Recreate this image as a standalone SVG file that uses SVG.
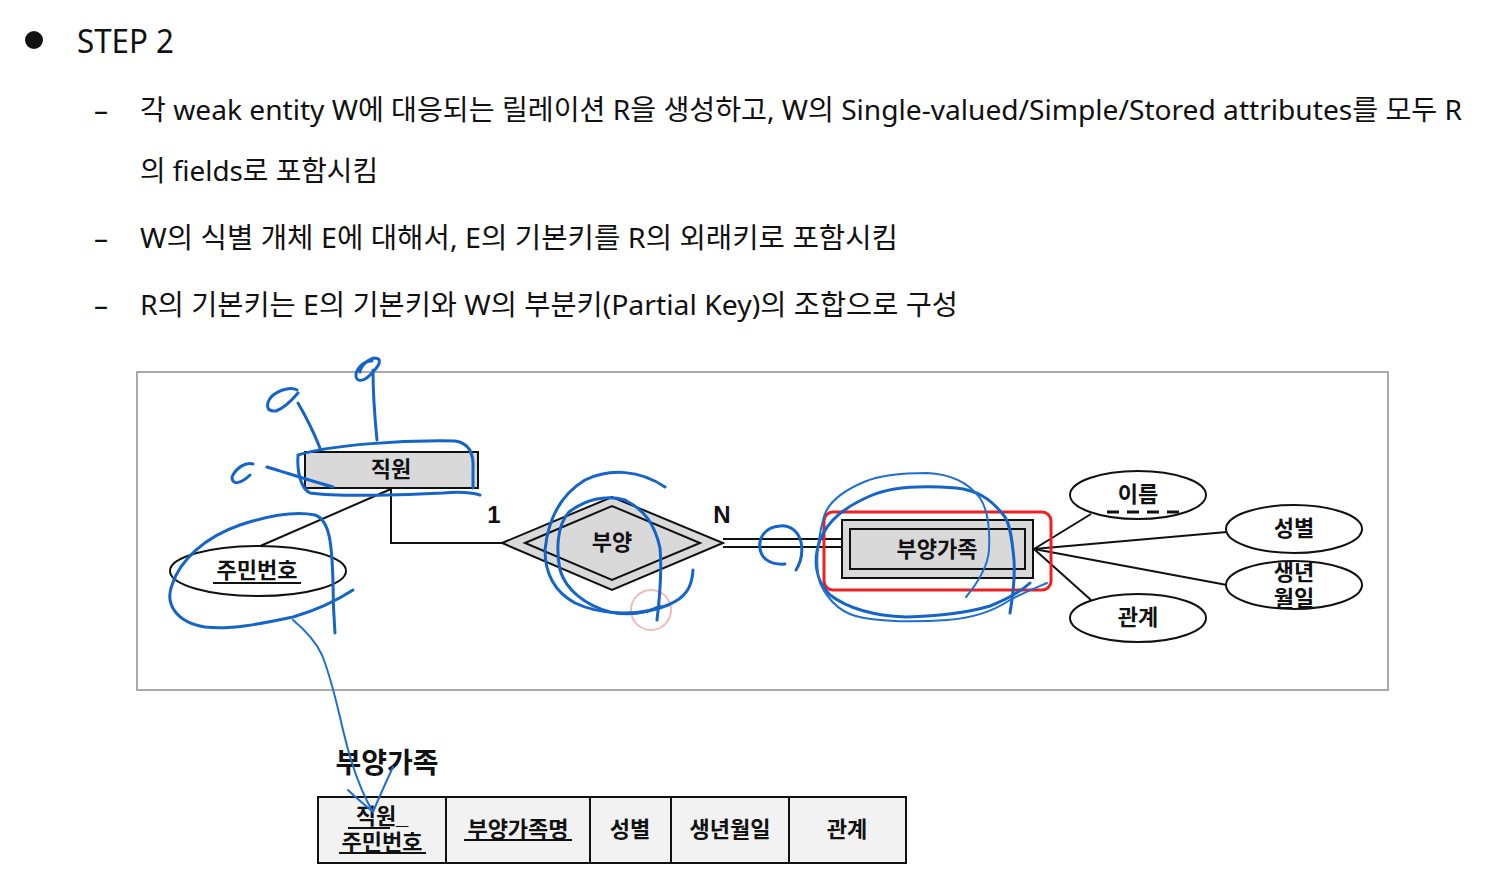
<svg xmlns="http://www.w3.org/2000/svg" width="1510" height="883" viewBox="0 0 1510 883">
<style>
.body{font-family:"Noto Sans","Noto Sans CJK KR",sans-serif;font-size:28px;fill:#111}
.lbl{font-family:"Liberation Sans","Noto Sans CJK KR",sans-serif;font-size:22px;font-weight:bold;fill:#111;text-anchor:middle;dominant-baseline:central}
.ent{fill:#d9d9d9;stroke:#111;stroke-width:2}
.attr{fill:#fff;stroke:#111;stroke-width:2}
.ln{stroke:#111;stroke-width:2;fill:none}
.cell{fill:#f2f2f2;stroke:#111;stroke-width:2}
.pen{fill:none;stroke:#1565c8;stroke-width:3;stroke-linecap:round;stroke-linejoin:round}
.pen2{fill:none;stroke:#1e6fd0;stroke-width:2;stroke-linecap:round}
</style>
<rect width="1510" height="883" fill="#fff"/>
<g id="text">
<circle cx="34" cy="40" r="9" fill="#111"/>
<text x="77" y="53" class="body" style="font-size:33px" textLength="97" lengthAdjust="spacingAndGlyphs">STEP 2</text>
<text x="94" y="120" class="body">–</text>
<text x="140" y="120" class="body" textLength="1322" lengthAdjust="spacingAndGlyphs">각 weak entity W에 대응되는 릴레이션 R을 생성하고, W의 Single-valued/Simple/Stored attributes를 모두 R</text>
<text x="140" y="181" class="body" textLength="238" lengthAdjust="spacingAndGlyphs">의 fields로 포함시킴</text>
<text x="94" y="248" class="body">–</text>
<text x="140" y="248" class="body" textLength="758" lengthAdjust="spacingAndGlyphs">W의 식별 개체 E에 대해서, E의 기본키를 R의 외래키로 포함시킴</text>
<text x="94" y="315" class="body">–</text>
<text x="140" y="315" class="body" textLength="818" lengthAdjust="spacingAndGlyphs">R의 기본키는 E의 기본키와 W의 부분키(Partial Key)의 조합으로 구성</text>
</g>
<rect x="137" y="372" width="1251" height="318" fill="#fff" stroke="#aaa" stroke-width="2"/>
<g id="connectors">
<line class="ln" x1="258" y1="547" x2="391" y2="489"/>
<polyline class="ln" points="391,489 391,543 502,543"/>
<line class="ln" x1="723" y1="539" x2="842" y2="539"/>
<line class="ln" x1="723" y1="547" x2="842" y2="547"/>
<line class="ln" x1="1034" y1="549" x2="1091" y2="514"/>
<line class="ln" x1="1034" y1="549" x2="1227" y2="532"/>
<line class="ln" x1="1034" y1="549" x2="1227" y2="585"/>
<line class="ln" x1="1034" y1="549" x2="1091" y2="600"/>
<text x="494" y="514" class="lbl" style="font-size:24px">1</text>
<text x="722" y="514" class="lbl" style="font-size:24px">N</text>
</g>
<g id="n-emp">
<rect class="ent" x="305" y="452" width="173" height="36"/>
<text x="391" y="469" class="lbl">직원</text>
</g>
<g id="n-ssn">
<ellipse class="attr" cx="258" cy="571" rx="88" ry="25"/>
<text x="257" y="570" class="lbl">주민번호</text>
<line class="ln" x1="213" y1="583" x2="301" y2="583"/>
</g>
<g id="n-rel">
<polygon class="ent" points="502,543 612,497 723,543 612,590"/>
<polygon class="ln" points="525,543 612,506 700,543 612,580"/>
<text x="612" y="542" class="lbl">부양</text>
</g>
<g id="n-dep">
<rect class="ent" x="842" y="520" width="191" height="58"/>
<rect class="ent" x="850" y="529" width="175" height="40"/>
<text x="937" y="549" class="lbl">부양가족</text>
<rect x="824" y="512" width="227" height="78" rx="9" fill="none" stroke="#ee2020" stroke-width="3"/>
</g>
<g id="n-name">
<ellipse class="attr" cx="1138" cy="495" rx="68" ry="24"/>
<text x="1138" y="494" class="lbl">이름</text>
<line x1="1107" y1="512" x2="1182" y2="512" stroke="#111" stroke-width="3" stroke-dasharray="12,8"/>
</g>
<g id="n-sex">
<ellipse class="attr" cx="1294" cy="529" rx="68" ry="24"/>
<text x="1294" y="528" class="lbl">성별</text>
</g>
<g id="n-birth">
<ellipse class="attr" cx="1294" cy="585" rx="68" ry="24"/>
<text x="1294" y="572" class="lbl">생년</text>
<text x="1294" y="598" class="lbl">월일</text>
</g>
<g id="n-relation">
<ellipse class="attr" cx="1138" cy="618" rx="68" ry="24"/>
<text x="1138" y="617" class="lbl">관계</text>
</g>
<g id="table">
<text x="387" y="763" class="lbl" style="font-size:28px">부양가족</text>
<rect class="cell" x="318" y="797" width="128" height="66"/>
<rect class="cell" x="446" y="797" width="144" height="66"/>
<rect class="cell" x="590" y="797" width="81" height="66"/>
<rect class="cell" x="671" y="797" width="118" height="66"/>
<rect class="cell" x="789" y="797" width="117" height="66"/>
<text x="382" y="816" class="lbl">직원_</text>
<text x="382" y="842" class="lbl">주민번호</text>
<line class="ln" x1="348" y1="828" x2="390" y2="828"/>
<line class="ln" x1="339" y1="853" x2="426" y2="853"/>
<text x="518" y="829" class="lbl">부양가족명</text>
<line class="ln" x1="464" y1="840" x2="572" y2="840"/>
<text x="630" y="829" class="lbl">성별</text>
<text x="730" y="829" class="lbl">생년월일</text>
<text x="847" y="829" class="lbl">관계</text>
</g>
<g id="annotations">
<circle cx="651" cy="610" r="20" fill="none" stroke="#f5b8b8" stroke-width="2"/>
<path class="pen" d="M480,495 C470,492 455,492 443,493 C400,495 340,497 310,493 C300,488 297,470 298,455 C330,445 400,440 455,441 C470,443 474,455 473,470 L473,488"/>
<path class="pen" d="M320,448 C312,428 305,415 298,403 M298,393 C292,400 285,408 276,411 C266,412 265,404 272,396 C280,389 292,387 297,390"/>
<path class="pen" d="M377,440 C374,410 373,390 373,370 M372,361 C366,360 358,366 356,374 C355,383 364,382 371,374 C379,366 384,358 374,358 C366,360 360,368 360,372"/>
<path class="pen" d="M267,467 C290,474 315,482 333,487 M253,464 C245,462 236,468 232,477 C232,487 243,482 250,475"/>
<path class="pen" d="M353,590 C330,605 310,612 293,617 C260,624 230,630 205,627 C175,622 165,603 172,585 C180,560 205,537 240,525 C270,515 295,511 315,515 C330,520 332,545 333,583 C333,605 334,620 335,633"/>
<path class="pen2" d="M293,620 C305,630 315,640 322,655 C332,680 337,705 343,730 C350,760 360,790 373,812 C365,805 355,797 348,790 M373,812 C380,795 387,780 393,767"/>
<path class="pen" d="M665,487 C640,470 610,468 585,480 C560,495 548,520 545,550 C545,575 555,592 575,603 C600,615 640,617 668,605 C685,598 692,588 693,570"/>
<path class="pen" d="M657,620 C660,595 662,570 660,548 C655,525 645,510 625,500 C605,494 585,500 569,512 C557,525 556,550 560,570 C566,590 585,605 610,612 C630,616 645,614 660,606"/>
<path class="pen" d="M796,570 C801,562 803,552 801,542 C798,530 789,525 780,526 C766,527 758,537 760,549 C762,560 772,565 785,564"/>
<path class="pen" d="M1010,613 C1013,595 1015,575 1014,560 C1012,538 1010,525 1005,517 C990,497 975,490 956,488 C920,485 890,487 870,496 C845,507 828,520 820,540 C813,560 815,580 830,595 C850,610 880,616 906,617 C940,616 970,612 990,606 C1005,600 1020,592 1030,583"/>
<path class="pen2" d="M966,597 C980,580 988,565 989,550 C990,530 988,510 980,498 C968,482 950,474 927,473 C900,473 880,475 864,482 C840,492 826,505 823,520 C818,540 815,565 820,583 C830,605 845,615 864,618 C890,622 920,622 947,620 C975,618 995,610 1010,600 C1025,592 1038,587 1047,583"/>
</g>
</svg>
